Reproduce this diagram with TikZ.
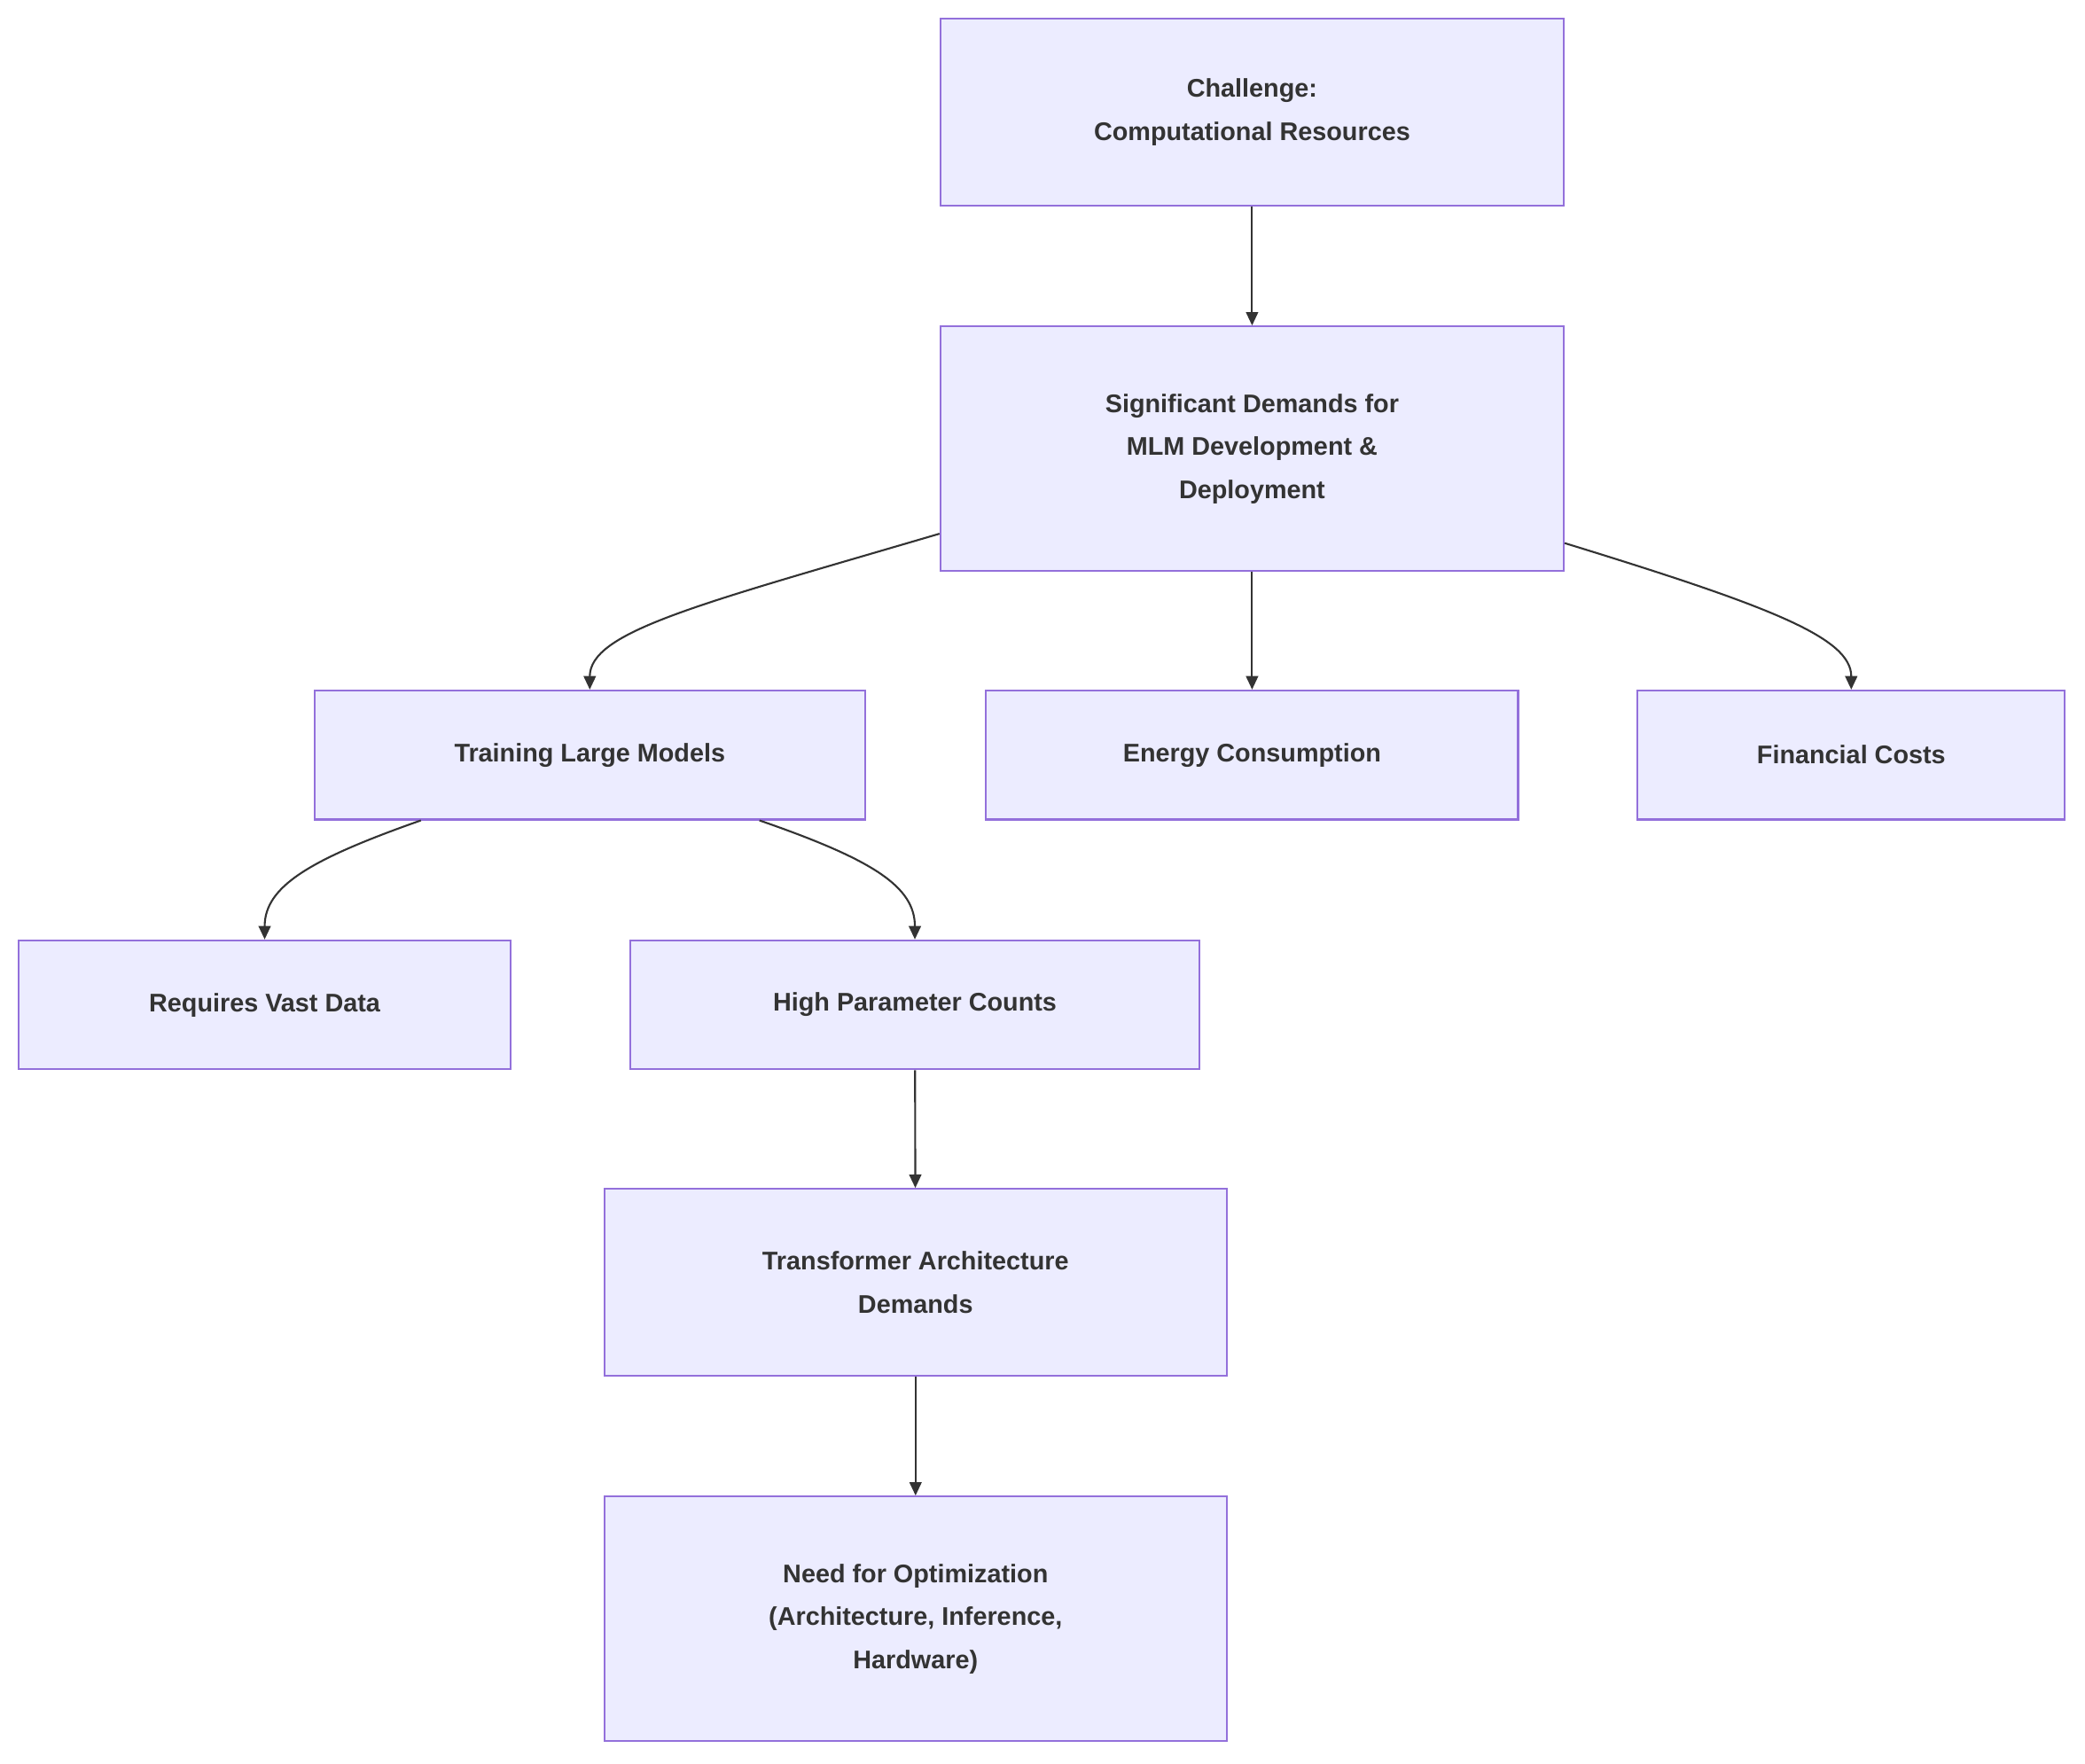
\documentclass[tikz,border=0pt]{standalone}
\usepackage{fontspec}
\setmainfont{Liberation Sans}
\usetikzlibrary{arrows.meta,calc}
\definecolor{nfill}{HTML}{ECECFF}
\definecolor{nbord}{HTML}{9370DB}
\definecolor{ink}{HTML}{333333}
\begin{document}
\begin{tikzpicture}[x=1pt,y=-1pt,
  box/.style={draw=nbord,fill=nfill,line width=1.4pt,align=center,inner sep=0pt,
    text=ink,font=\fontsize{19}{32}\selectfont\bfseries},
  arr/.style={draw=ink,line width=1.4pt,-{Triangle[length=10pt,width=9pt]}}]
\useasboundingbox[fill=white] (0,0) rectangle (1552,1312.5);
\node[box,minimum width=464pt,minimum height=139pt] (A) at (932,83.5) {Challenge:\\Computational Resources};
\node[box,minimum width=464pt,minimum height=182pt] (B) at (932,334) {Significant Demands for\\MLM Development \&\\Deployment};
\node[box,minimum width=410pt,minimum height=96pt] (C) at (439,562) {Training Large Models};
\node[box,minimum width=396pt,minimum height=96pt] (D) at (932,562) {Energy Consumption};
\node[box,minimum width=318pt,minimum height=96pt] (E) at (1378,562) {Financial Costs};
\node[box,minimum width=366pt,minimum height=96pt] (F) at (197,748) {Requires Vast Data};
\node[box,minimum width=424pt,minimum height=96pt] (G) at (681,748) {High Parameter Counts};
\node[box,minimum width=463pt,minimum height=139pt] (H) at (681.5,954.5) {Transformer Architecture\\Demands};
\node[box,minimum width=463pt,minimum height=182pt] (I) at (681.5,1205) {Need for Optimization\\(Architecture, Inference,\\Hardware)};
\draw[arr] (A) -- (B);
\draw[arr] (B) -- (D);
\draw[arr] (G) -- (H);
\draw[arr] (H) -- (I);
\draw[arr] ($(B.north west)+(0,155)$) .. controls (520,450) and (439,470) .. (C.north);
\draw[arr] ($(B.north east)+(0,162)$) .. controls (1320,452) and (1378,475) .. (E.north);
\draw[arr] ($(C.south west)+(80,0)$) .. controls (230,640) and (197,660) .. (F.north);
\draw[arr] ($(C.south west)+(332,0)$) .. controls (650,640) and (681,660) .. (G.north);
\end{tikzpicture}
\end{document}
